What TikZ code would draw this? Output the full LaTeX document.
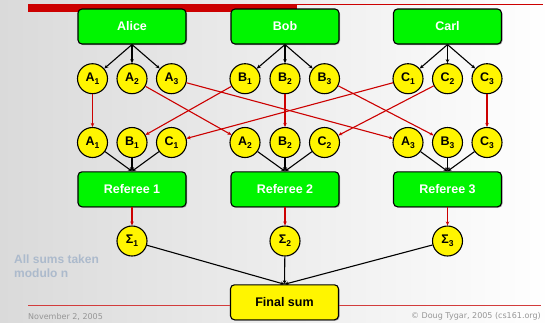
\documentclass[tikz,border=0pt]{standalone}
\usepackage{fontspec}
\setmainfont{Liberation Sans}
\newfontfamily\footfont{DejaVu Sans}
\usetikzlibrary{arrows.meta,shadows}
\definecolor{boxgreen}{RGB}{0,245,0}
\definecolor{circyellow}{RGB}{255,245,0}
\definecolor{linered}{RGB}{204,0,0}
\definecolor{rulered}{RGB}{210,60,60}
\definecolor{notegray}{RGB}{172,186,204}
\definecolor{footgray}{RGB}{150,150,150}
\definecolor{bgleft}{RGB}{218,218,218}
\newcommand\subs[1]{\raisebox{-0.5ex}{\fontsize{8.5}{8.5}\selectfont #1}}
\begin{document}
\begin{tikzpicture}[x=1pt,y=-1pt,
 personbox/.style={draw,line width=1.1pt,rounded corners=4pt,fill=boxgreen,minimum width=108pt,minimum height=35pt,inner sep=0pt,font=\fontsize{12.5}{14}\selectfont\bfseries,text=white,drop shadow={shadow xshift=1pt,shadow yshift=-1pt,fill=black!60,opacity=0.5}},
 finalbox/.style={personbox,fill=circyellow,text=black},
 share/.style={circle,draw,line width=1.1pt,fill=circyellow,minimum size=30pt,inner sep=0pt,font=\fontsize{12.5}{14}\selectfont\bfseries},
 blk/.style={-{Stealth[length=4pt,width=3.5pt]},line width=1.1pt,black},
 redarr/.style={-{Stealth[length=4pt,width=3.5pt]},line width=1.1pt,linered},
]
% background
\shade[left color=bgleft,right color=white] (0,0) rectangle (552,322);
\useasboundingbox (0,0) rectangle (552,322);
% top rules
\fill[linered] (28,4) rectangle (297,11.7);
\draw[linered,line width=0.8pt] (297,4.4) -- (543,4.4);

% people
\node[personbox] (alice) at (132,26.5) {Alice};
\node[personbox] (bob) at (285,26.5) {Bob};
\node[personbox] (carl) at (447.5,26.5) {Carl};

% top row shares
\node[share] (ta1) at (92.5,78.7) {A\subs1};
\node[share] (ta2) at (132,78.7) {A\subs2};
\node[share] (ta3) at (171.5,78.7) {A\subs3};
\node[share] (tb1) at (245,78.7) {B\subs1};
\node[share] (tb2) at (285,78.7) {B\subs2};
\node[share] (tb3) at (324.5,78.7) {B\subs3};
\node[share] (tc1) at (408,78.7) {C\subs1};
\node[share] (tc2) at (447.5,78.7) {C\subs2};
\node[share] (tc3) at (487,78.7) {C\subs3};

% second row shares
\node[share] (ba1) at (92.5,142.5) {A\subs1};
\node[share] (bb1) at (132,142.5) {B\subs1};
\node[share] (bc1) at (171.5,142.5) {C\subs1};
\node[share] (ba2) at (245,142.5) {A\subs2};
\node[share] (bb2) at (285,142.5) {B\subs2};
\node[share] (bc2) at (324.5,142.5) {C\subs2};
\node[share] (ba3) at (408,142.5) {A\subs3};
\node[share] (bb3) at (447.5,142.5) {B\subs3};
\node[share] (bc3) at (487,142.5) {C\subs3};

% referees
\node[personbox] (ref1) at (132,189.3) {Referee 1};
\node[personbox] (ref2) at (285,189.3) {Referee 2};
\node[personbox] (ref3) at (447.5,189.3) {Referee 3};

% sums
\node[share] (s1) at (132,241) {Σ\subs1};
\node[share] (s2) at (285,241) {Σ\subs2};
\node[share] (s3) at (447.5,241) {Σ\subs3};

\node[finalbox] (final) at (284.5,302.3) {Final sum};

% bottom rule
\draw[rulered,line width=0.7pt] (28,305) -- (final.west |- 0,305);
\draw[rulered,line width=0.7pt] (final.east |- 0,305) -- (541,305);

% person -> shares
\foreach \p/\l in {alice/a,bob/b,carl/c}{
  \foreach \i in {1,2,3}{
    \draw[blk] (\p.south) -- (t\l\i);
  }
}
% redistribution
\foreach \l in {a,b,c}{
  \foreach \i in {1,2,3}{
    \draw[redarr] (t\l\i) -- (b\l\i);
  }
}
% shares -> referees
\foreach \i in {1,2,3}{
  \foreach \l in {a,b,c}{
    \draw[blk] (b\l\i) -- (ref\i.north);
  }
  \draw[redarr] (ref\i) -- (s\i);
  \draw[blk] (s\i) -- (final.north);
}

% notes
\node[anchor=north west,align=left,inner sep=0pt,text=notegray,font=\fontsize{12}{14.3}\selectfont\bfseries] (note) at (14,254.5) {All sums taken\\modulo n};
\node[anchor=west,inner sep=0pt,text=footgray,font=\footfont\fontsize{8}{9}\selectfont] (date) at (28,316.5) {November 2, 2005};
\node[anchor=east,inner sep=0pt,text=footgray,font=\footfont\fontsize{8}{9}\selectfont] (copy) at (541,316.5) {© Doug Tygar, 2005 (cs161.org)};
\end{tikzpicture}
\end{document}
